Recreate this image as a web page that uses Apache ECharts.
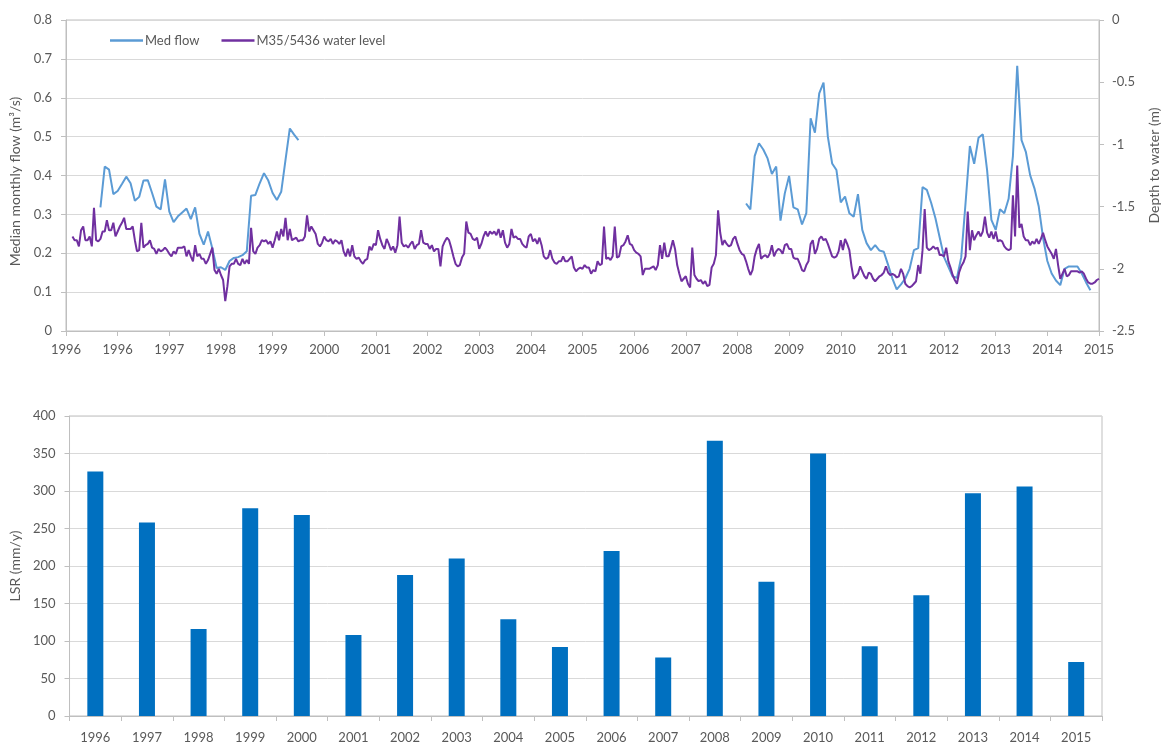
<!DOCTYPE html>
<html>
<head>
<meta charset="utf-8">
<script src="https://cdn.jsdelivr.net/npm/echarts/dist/echarts.min.js"></script>
<style>
html,body{margin:0;padding:0;background:#fff;}
#chart{width:1169px;height:744px;}
</style>
</head>
<body>
<div id="chart"></div>
<script>
// ---- tick labels (top chart time axis, one tick per 365 days from 1996-01-01) ----
const xTickLabels = ['1996','1996','1997','1998','1999','2000','2001','2002','2003','2004','2005','2006','2007','2008','2009','2010','2011','2012','2013','2014','2015'];

// ---- Median monthly flow (m3/s); monthly values, start given as months after Jan 1996 ----
const flowStart1 = 8;
const flow1 = [0.318,0.423,0.415,0.352,0.36,0.378,0.397,0.38,0.335,0.345,0.387,0.388,0.355,0.32,0.313,0.39,0.307,0.28,0.295,0.305,0.315,0.288,0.318,0.25,0.222,0.256,0.212,0.162,0.164,0.157,0.18,0.188,0.19,0.195,0.205,0.348,0.35,0.38,0.406,0.387,0.355,0.337,0.358,0.44,0.521,0.505,0.491];
const flowStart2 = 158;
const flow2 = [0.328,0.313,0.45,0.483,0.467,0.444,0.404,0.423,0.284,0.354,0.399,0.318,0.313,0.274,0.303,0.547,0.51,0.611,0.639,0.50,0.431,0.414,0.331,0.346,0.303,0.294,0.352,0.26,0.226,0.208,0.221,0.207,0.204,0.17,0.135,0.107,0.12,0.135,0.16,0.208,0.213,0.37,0.363,0.33,0.29,0.24,0.19,0.165,0.14,0.137,0.19,0.33,0.476,0.43,0.497,0.506,0.414,0.286,0.26,0.313,0.303,0.34,0.45,0.682,0.491,0.461,0.401,0.367,0.32,0.24,0.18,0.148,0.13,0.118,0.16,0.166,0.166,0.166,0.148,0.125,0.105];

// ---- M35/5436 water level, depth to water (m); semi-monthly readings per year ----
const wl1996 = [null,null,null,-1.74,-1.77,-1.77,-1.82,-1.69,-1.66,-1.77,-1.77,-1.74,-1.82,-1.51,-1.77,-1.78,-1.76,-1.70,-1.70,-1.61,-1.69,-1.69,-1.63,-1.74];
const wl1997 = [-1.70,-1.66,-1.63,-1.59,-1.68,-1.68,-1.68,-1.66,-1.77,-1.86,-1.85,-1.63,-1.83,-1.81,-1.80,-1.77,-1.83,-1.84,-1.88,-1.84,-1.86,-1.85,-1.83,-1.85];
const wl1998 = [-1.88,-1.90,-1.86,-1.88,-1.83,-1.83,-1.83,-1.82,-1.90,-1.85,-1.90,-1.94,-1.81,-1.90,-1.88,-1.92,-1.92,-1.96,-1.93,-1.88,-1.83,-2.01,-2.04,-2.00];
const wl1999 = [-2.05,-2.09,-2.26,-2.14,-1.98,-1.96,-1.96,-1.92,-1.96,-1.97,-1.92,-1.96,-1.93,-1.96,-1.67,-1.86,-1.88,-1.83,-1.81,-1.77,-1.78,-1.77,-1.80,-1.78];
const wl2000 = [-1.83,-1.77,-1.70,-1.77,-1.68,-1.74,-1.59,-1.77,-1.68,-1.77,-1.76,-1.75,-1.78,-1.77,-1.77,-1.74,-1.57,-1.70,-1.66,-1.69,-1.72,-1.80,-1.82,-1.79];
const wl2001 = [-1.74,-1.77,-1.78,-1.76,-1.80,-1.77,-1.78,-1.80,-1.77,-1.86,-1.90,-1.84,-1.90,-1.81,-1.90,-1.92,-1.91,-1.94,-1.96,-1.93,-1.92,-1.82,-1.85,-1.80];
const wl2002 = [-1.81,-1.69,-1.76,-1.81,-1.84,-1.76,-1.80,-1.85,-1.82,-1.87,-1.81,-1.58,-1.79,-1.82,-1.81,-1.83,-1.80,-1.78,-1.84,-1.81,-1.80,-1.69,-1.79,-1.80];
const wl2003 = [-1.80,-1.84,-1.81,-1.86,-1.84,-1.84,-1.98,-1.82,-1.78,-1.75,-1.77,-1.83,-1.90,-1.96,-1.98,-1.97,-1.91,-1.88,-1.62,-1.71,-1.72,-1.76,-1.77,-1.75];
const wl2004 = [-1.84,-1.80,-1.74,-1.70,-1.74,-1.70,-1.72,-1.70,-1.73,-1.68,-1.75,-1.69,-1.79,-1.83,-1.80,-1.68,-1.75,-1.74,-1.76,-1.76,-1.80,-1.82,-1.83,-1.74];
const wl2005 = [-1.72,-1.78,-1.76,-1.80,-1.75,-1.81,-1.90,-1.92,-1.91,-1.85,-1.92,-1.95,-1.96,-1.94,-1.94,-1.90,-1.94,-1.94,-1.92,-1.90,-1.99,-2.02,-2.00,-1.99];
const wl2006 = [-2.00,-1.97,-1.99,-1.99,-2.04,-2.01,-2.02,-1.94,-1.97,-1.96,-1.66,-1.92,-1.91,-1.93,-1.90,-1.66,-1.91,-1.90,-1.82,-1.81,-1.78,-1.73,-1.80,-1.81];
const wl2007 = [-1.85,-1.87,-1.88,-1.90,-2.05,-2.00,-2.00,-2.00,-1.99,-1.98,-2.01,-1.97,-1.81,-1.92,-1.79,-1.90,-1.90,-1.84,-1.77,-1.84,-1.97,-2.04,-2.10,-2.08];
const wl2008 = [-2.06,-2.12,-2.15,-1.83,-2.05,-2.08,-2.10,-2.09,-2.12,-2.10,-2.14,-2.13,-1.99,-1.96,-1.89,-1.53,-1.71,-1.81,-1.77,-1.80,-1.82,-1.81,-1.76,-1.74];
const wl2009 = [-1.80,-1.85,-1.88,-1.89,-1.94,-2.00,-2.05,-2.01,-1.90,-1.84,-1.80,-1.92,-1.90,-1.89,-1.91,-1.88,-1.81,-1.90,-1.86,-1.84,-1.85,-1.88,-1.81,-1.80];
const wl2010 = [-1.84,-1.84,-1.91,-1.92,-1.92,-1.96,-2.01,-2.02,-1.97,-1.94,-1.80,-1.77,-1.88,-1.84,-1.76,-1.74,-1.77,-1.76,-1.80,-1.85,-1.90,-1.91,-1.90,-1.86];
const wl2011 = [-1.77,-1.85,-1.76,-1.80,-1.85,-1.98,-2.08,-2.06,-2.04,-1.98,-2.02,-2.06,-2.08,-2.03,-2.04,-2.08,-2.10,-2.08,-2.06,-2.05,-2.03,-1.98,-2.03,-2.05];
const wl2012 = [-2.04,-2.05,-2.07,-2.06,-2.00,-2.04,-2.12,-2.14,-2.15,-2.14,-2.12,-2.10,-1.97,-2.04,-1.85,-1.52,-1.83,-1.85,-1.84,-1.82,-1.84,-1.83,-1.89,-1.89];
const wl2013 = [-1.90,-1.83,-1.94,-1.99,-2.05,-2.09,-2.12,-2.03,-1.98,-1.95,-1.90,-1.54,-1.85,-1.69,-1.77,-1.73,-1.70,-1.74,-1.70,-1.58,-1.71,-1.75,-1.70,-1.76];
const wl2014 = [-1.70,-1.78,-1.77,-1.78,-1.82,-1.84,-1.85,-1.84,-1.41,-1.74,-1.17,-1.67,-1.64,-1.74,-1.77,-1.77,-1.81,-1.78,-1.80,-1.76,-1.80,-1.76,-1.71,-1.77];
const wl2015 = [-1.82,-1.85,-1.88,-1.92,-1.84,-1.97,-2.08,-2.04,-2.00,-2.06,-2.05,-2.02,-2.02,-2.02,-2.02,-2.03,-2.02,-2.04,-2.08,-2.11,-2.12,-2.12,-2.11,-2.09,-2.08];

// ---- LSR (mm/y) bar chart ----
const lsrYears = ['1996','1997','1998','1999','2000','2001','2002','2003','2004','2005','2006','2007','2008','2009','2010','2011','2012','2013','2014','2015'];
const lsrValues = [326,258,116,277,268,108,188,210,129,92,220,78,367,179,350,93,161,297,306,72];

// ---- build series data (x = years after 1 Jan 1996) ----
const flowData = [];
flow1.forEach((v, i) => flowData.push([(flowStart1 + i) / 12, v]));
flowData.push([(flowStart1 + flow1.length) / 12, '-']);
flow2.forEach((v, i) => flowData.push([(flowStart2 + i) / 12, v]));

const wlYears = [wl1996,wl1997,wl1998,wl1999,wl2000,wl2001,wl2002,wl2003,wl2004,wl2005,wl2006,wl2007,wl2008,wl2009,wl2010,wl2011,wl2012,wl2013,wl2014,wl2015];
const wlData = [];
wlYears.forEach((arr, y) => arr.forEach((v, k) => { if (v !== null) wlData.push([y + k / 24, v]); }));

const FONT = 'Lato, "Open Sans", sans-serif';
const txt = { color: '#595959', fontSize: 13, fontFamily: FONT };
const titleTxt = { color: '#595959', fontSize: 14, fontFamily: FONT };
const axisLineGray = { lineStyle: { color: '#BFBFBF', width: 1 } };
const gridLine = { show: true, lineStyle: { color: '#D9D9D9', width: 1 } };

const chart = echarts.init(document.getElementById('chart'), null, { renderer: 'canvas' });
chart.setOption({
  backgroundColor: '#ffffff',
  animation: false,
  textStyle: { fontFamily: FONT },
  legend: {
    data: ['Med flow', 'M35/5436 water level'],
    left: 105, top: 29,
    icon: 'rect', itemWidth: 33, itemHeight: 2.5, itemGap: 22,
    textStyle: { color: '#595959', fontSize: 13, fontFamily: FONT, padding: [0, 0, 0, -3] }
  },
  grid: [
    { left: 66, right: 60, top: 20, height: 311, show: true, borderColor: '#BFBFBF', borderWidth: 1 },
    { left: 64, right: 67, top: 416, height: 305, show: true, borderColor: '#BFBFBF', borderWidth: 1 }
  ],
  xAxis: [
    {
      type: 'value', gridIndex: 0, min: 0, max: 20, interval: 1,
      axisLine: axisLineGray, axisTick: { show: true, inside: false, length: 5, lineStyle: { color: '#BFBFBF' } },
      splitLine: { show: false },
      axisLabel: Object.assign({}, txt, { margin: 12, formatter: v => xTickLabels[Math.round(v)] })
    },
    {
      type: 'category', gridIndex: 1, data: lsrYears,
      axisLine: axisLineGray, axisTick: { show: true, length: 5, lineStyle: { color: '#BFBFBF' } },
      axisLabel: Object.assign({}, txt, { margin: 15 })
    }
  ],
  yAxis: [
    {
      type: 'value', gridIndex: 0, min: 0, max: 0.8, interval: 0.1, position: 'left',
      name: 'Median monthly flow (m³/s)', nameLocation: 'middle', nameGap: 37,
      nameTextStyle: Object.assign({}, titleTxt, { padding: [0, 12, 0, 0] }),
      axisLine: { show: true, lineStyle: { color: '#BFBFBF' } },
      axisTick: { show: true, length: 5, lineStyle: { color: '#BFBFBF' } },
      splitLine: gridLine,
      axisLabel: Object.assign({}, txt, { margin: 14 })
    },
    {
      type: 'value', gridIndex: 0, min: -2.5, max: 0, interval: 0.5, position: 'right',
      name: 'Depth to water (m)', nameLocation: 'middle', nameGap: 48, nameRotate: 90,
      nameTextStyle: Object.assign({}, titleTxt, { padding: [0, 0, 0, 20] }),
      axisLine: { show: true, lineStyle: { color: '#BFBFBF' } },
      axisTick: { show: true, length: 5, lineStyle: { color: '#BFBFBF' } },
      splitLine: { show: false },
      axisLabel: Object.assign({}, txt, { margin: 13 })
    },
    {
      type: 'value', gridIndex: 1, min: 0, max: 400, interval: 50,
      name: 'LSR (mm/y)', nameLocation: 'middle', nameGap: 40,
      nameTextStyle: titleTxt,
      axisLine: { show: true, lineStyle: { color: '#BFBFBF' } },
      axisTick: { show: true, length: 5, lineStyle: { color: '#BFBFBF' } },
      splitLine: gridLine,
      axisLabel: Object.assign({}, txt, { margin: 14 })
    }
  ],
  series: [
    {
      name: 'Med flow', type: 'line', xAxisIndex: 0, yAxisIndex: 0,
      data: flowData, showSymbol: false, symbol: 'none', connectNulls: false,
      lineStyle: { color: '#5B9BD5', width: 2 }, itemStyle: { color: '#5B9BD5' }
    },
    {
      name: 'M35/5436 water level', type: 'line', xAxisIndex: 0, yAxisIndex: 1,
      data: wlData, showSymbol: false, symbol: 'none',
      lineStyle: { color: '#7030A0', width: 2 }, itemStyle: { color: '#7030A0' }
    },
    {
      name: 'LSR', type: 'bar', xAxisIndex: 1, yAxisIndex: 2,
      data: lsrValues, barWidth: 16,
      itemStyle: { color: '#0070C0' }
    }
  ]
});
</script>
</body>
</html>
